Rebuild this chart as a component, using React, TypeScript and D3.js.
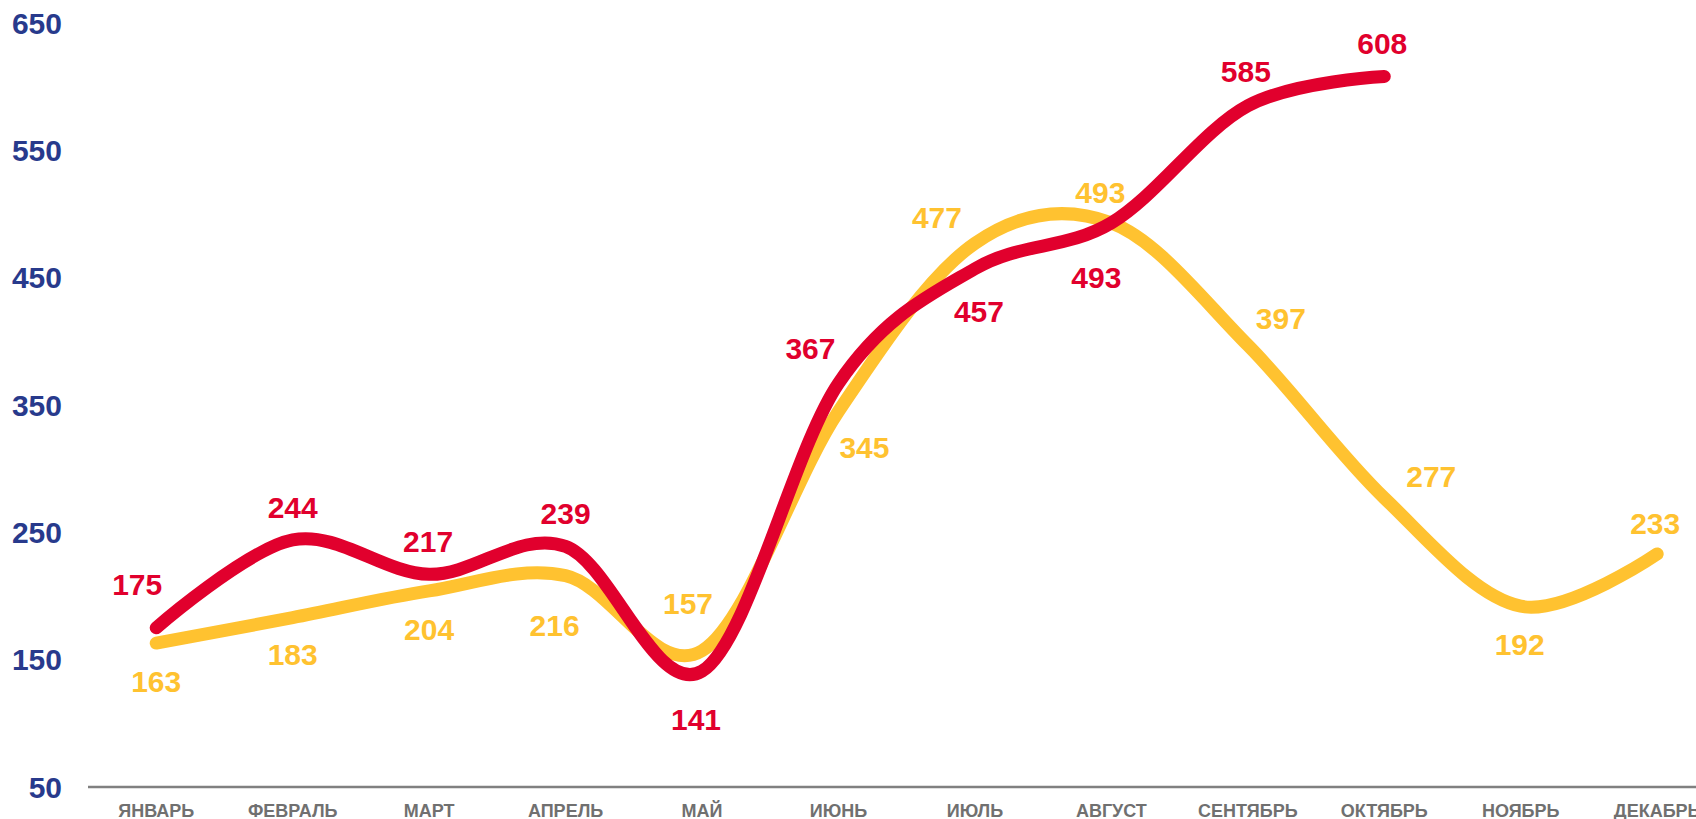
import React from "react";
import * as d3 from "d3";

const months = ["ЯНВАРЬ", "ФЕВРАЛЬ", "МАРТ", "АПРЕЛЬ", "МАЙ", "ИЮНЬ", "ИЮЛЬ", "АВГУСТ", "СЕНТЯБРЬ", "ОКТЯБРЬ", "НОЯБРЬ", "ДЕКАБРЬ"];
const redValues = [175, 244, 217, 239, 141, 367, 457, 493, 585, 608];
const yellowValues = [163, 183, 204, 216, 157, 345, 477, 493, 397, 277, 192, 233];
const yTicks = [50, 150, 250, 350, 450, 550, 650];

// label placement offsets (styling, relative to each point)
const redLabelOffsets: [number, number][] = [
  [-19, -44], [0, -33], [-1, -33], [0, -33], [-6, 48], [-28, -35], [4, 43], [-15, 54], [-2, -34], [-2, -33],
];
const yellowLabelOffsets: [number, number][] = [
  [0, 38], [0, 37], [0, 38], [-11, 50], [-14, -47], [26, 36], [-38, -26], [-11, -31], [33, -27], [47, -22], [-1, 38], [-2, -31],
];

const W = 1696;
const H = 819;
const RED = "#E1002D";
const YELLOW = "#FFC230";
const NAVY = "#283A8C";
const FONT = "'Liberation Sans', Arial, Helvetica, sans-serif";

export default function App() {
  const x = d3.scaleBand<string>().domain(months).range([88, 88 + 12 * 136.45]).padding(0);
  const y = d3.scaleLinear().domain([50, 650]).range([787, 23]);
  const cx = (i: number) => (x(months[i]) as number) + x.bandwidth() / 2;

  const line = d3
    .line<number>()
    .x((_, i) => cx(i))
    .y((d) => y(d))
    .curve(d3.curveCardinal.tension(0));

  const labelBase = 10.7;

  return (
    <div style={{ position: "fixed", left: 0, top: 0, width: W, height: H, overflow: "hidden", background: "#fff" }}>
      <svg width={W} height={H} style={{ display: "block" }} fontFamily={FONT} fontWeight="bold">
        {yTicks.map((t) => (
          <text key={t} x={62} y={y(t) + labelBase} textAnchor="end" fontSize={30} fill={NAVY}>
            {t}
          </text>
        ))}
        <line x1={88} x2={W} y1={y(50)} y2={y(50)} stroke="#808080" strokeWidth={2.5} />
        {months.map((m, i) => (
          <text key={m} x={cx(i)} y={817} textAnchor="middle" fontSize={18} fill="#707070">
            {m}
          </text>
        ))}
        <path d={line(yellowValues) || ""} fill="none" stroke={YELLOW} strokeWidth={13} strokeLinecap="round" strokeLinejoin="round" />
        <path d={line(redValues) || ""} fill="none" stroke={RED} strokeWidth={13} strokeLinecap="round" strokeLinejoin="round" />
        {yellowValues.map((v, i) => (
          <text key={"y" + i} x={cx(i) + yellowLabelOffsets[i][0]} y={y(v) + yellowLabelOffsets[i][1] + labelBase} textAnchor="middle" fontSize={30} fill={YELLOW}>
            {v}
          </text>
        ))}
        {redValues.map((v, i) => (
          <text key={"r" + i} x={cx(i) + redLabelOffsets[i][0]} y={y(v) + redLabelOffsets[i][1] + labelBase} textAnchor="middle" fontSize={30} fill={RED}>
            {v}
          </text>
        ))}
      </svg>
    </div>
  );
}
